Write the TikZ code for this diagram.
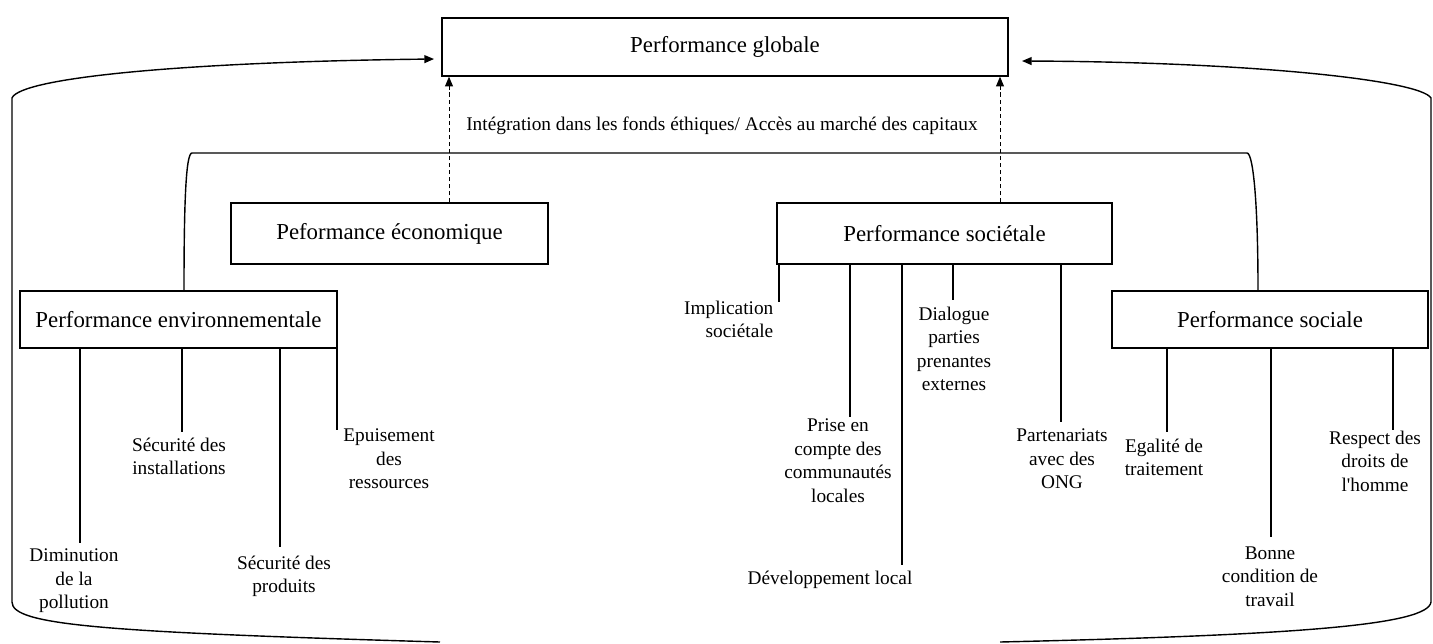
\documentclass[tikz,border=0pt]{standalone}
\usepackage{fontspec}
\setmainfont{Liberation Serif}
\usetikzlibrary{arrows.meta}

\begin{document}
\begin{tikzpicture}[x=0.02cm,y=-0.02cm,draw=black!100,line width=0.8pt]
 	\def \rowglob{47}
 	\def \rowtwo{233.5}
 	\def \rowthree{319.5}
 	\tikzstyle{p-box}=[rectangle,draw=black!100,inner sep=0pt,font=\fontsize{13}{15}\selectfont]
 	\tikzstyle{annot}=[align=center,inner sep=0pt,anchor=north,font=\fontsize{11}{13.4}\selectfont]
 	\tikzstyle{dash-link}=[dash pattern=on 2.5pt off 1.5pt,line width=0.5pt,-{Triangle[length=5.5pt,width=4.5pt]}]
 	\tikzstyle{loop-link}=[-{Triangle[length=5.5pt,width=4.5pt]}]
 	\useasboundingbox (0,0) rectangle (1433,643);
 	% boxes
 	\node[p-box,minimum width=11.32cm,minimum height=1.16cm] (glob)	at (725,\rowglob)	{Performance globale};
 	\node[p-box,minimum width=6.34cm,minimum height=1.22cm] (eco)	at (389.5,\rowtwo)	{Peformance économique};
 	\node[p-box,minimum width=6.7cm,minimum height=1.22cm] 	(soc)	at (944.5,\rowtwo)	{Performance sociétale};
 	\node[p-box,minimum width=6.34cm,minimum height=1.14cm] (env)	at (178.5,\rowthree)	{Performance environnementale};
 	\node[p-box,minimum width=6.32cm,minimum height=1.14cm] (sol)	at (1270,\rowthree)	{Performance sociale};
 	\node[inner sep=0pt,font=\fontsize{11}{13}\selectfont] (integ) at (722,126) {Intégration dans les fonds éthiques/ Accès au marché des capitaux};
 	% labels
 	\node[annot] (dimi)	at (74,548)	{Diminution\\de la\\pollution};
 	\node[annot] (inst)	at (179,437)	{Sécurité des\\installations};
 	\node[annot] (prod)	at (284,555)	{Sécurité des\\produits};
 	\node[annot] (epui)	at (389,428)	{Epuisement\\des\\ressources};
 	\node[annot,anchor=north east,align=right] (impl) at (774,300) {Implication\\sociétale};
 	\node[annot] (prise)	at (838,418)	{Prise en\\compte des\\communautés\\locales};
 	\node[annot] (devl)	at (830,570)	{Développement local};
 	\node[annot] (dial)	at (954,306)	{Dialogue\\parties\\prenantes\\externes};
 	\node[annot] (part)	at (1062,428)	{Partenariats\\avec des\\ONG};
 	\node[annot] (egal)	at (1164,438)	{Egalité de\\traitement};
 	\node[annot] (bonne)	at (1270,546)	{Bonne\\condition de\\travail};
 	\node[annot] (resp)	at (1375,430)	{Respect des\\droits de\\l\textquotesingle{}homme};
 	% line ends
 	\coordinate (e-dimi) at (80,543);
 	\coordinate (e-inst) at (182,432);
 	\coordinate (e-prod) at (280,547);
 	\coordinate (e-epui) at (337,430);
 	\coordinate (e-impl) at (779,302);
 	\coordinate (e-prise) at (850,417);
 	\coordinate (e-devl) at (902,565);
 	\coordinate (e-dial) at (953,300);
 	\coordinate (e-part) at (1061,422);
 	\coordinate (e-egal) at (1167,432);
 	\coordinate (e-bonne) at (1271,537);
 	\coordinate (e-resp) at (1393,430);
 	\coordinate (d-eco) at (449,0);
 	\coordinate (d-soc) at (1000,0);
 	\coordinate (bar-l) at (192,153);
 	\coordinate (bar-r) at (1247,153);
 	\coordinate (l-in) at (434,59);
 	\coordinate (l-end) at (440,642);
 	\coordinate (r-in) at (1022,61);
 	\coordinate (r-end) at (1000,642);
 	% children
 	\path (env.south -| e-dimi)	edge	(e-dimi)
 		(env.south -| e-inst)	edge	(e-inst)
 		(env.south -| e-prod)	edge	(e-prod)
 		(env.south -| e-epui)	edge	(e-epui)

 		(soc.south -| e-impl)	edge	(e-impl)
 		(soc.south -| e-prise)	edge	(e-prise)
 		(soc.south -| e-devl)	edge	(e-devl)
 		(soc.south -| e-dial)	edge	(e-dial)
 		(soc.south -| e-part)	edge	(e-part)

 		(sol.south -| e-egal)	edge	(e-egal)
 		(sol.south -| e-bonne)	edge	(e-bonne)
 		(sol.south -| e-resp)	edge	(e-resp);
 	% bar and dashed arrows
 	\draw ([xshift=0.11cm]env.north) .. controls +(0,-90) and +(-6,0) .. (bar-l) -- (bar-r)
 		.. controls +(6,0) and +(0,-90) .. ([xshift=-0.24cm]sol.north);
 	\draw[dash-link] (eco.north -| d-eco) -- (glob.south -| d-eco);
 	\draw[dash-link] (soc.north -| d-soc) -- (glob.south -| d-soc);
 	% outer loop
 	\draw[loop-link] (l-end) .. controls (100,632) and (12,625) .. (12,602) -- (12,98)
 		.. controls (20,78) and (180,62) .. (l-in);
 	\draw[loop-link] (r-end) .. controls (1300,635) and (1428,625) .. (1431,602) -- (1431,98)
 		.. controls (1420,80) and (1250,62) .. (r-in);
\end{tikzpicture}
\end{document}
